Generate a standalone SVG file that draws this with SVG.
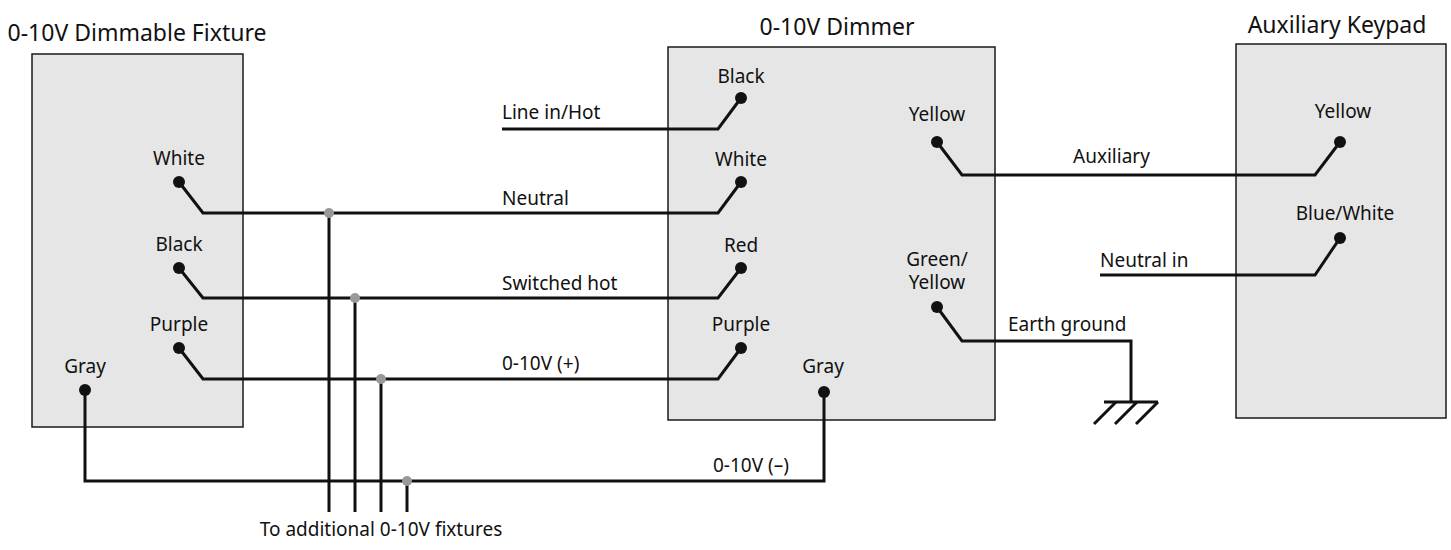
<svg xmlns="http://www.w3.org/2000/svg" width="1451" height="550" viewBox="0 0 1451 550">
<style>
.box{fill:#e6e6e6;stroke:#1a1a1a;stroke-width:1.5}
.w{fill:none;stroke:#111;stroke-width:3;stroke-linejoin:miter}
.t{font-family:"Noto Sans","Open Sans",sans-serif;font-size:19px;fill:#111}
.h{font-family:"Noto Sans","Open Sans",sans-serif;font-size:23px;fill:#111;text-anchor:middle}
.c{text-anchor:middle}
.d{fill:#111}
.j{fill:#999}
</style>
<rect width="1451" height="550" fill="#fff"/>
<g id="fixture">
<rect class="box" x="32" y="54" width="211" height="373"/>
<text class="h" x="137" y="41">0-10V Dimmable Fixture</text>
<text class="t c" x="179" y="165">White</text><circle class="d" cx="179" cy="182" r="6"/>
<text class="t c" x="179" y="251">Black</text><circle class="d" cx="179" cy="268" r="6"/>
<text class="t c" x="179" y="331">Purple</text><circle class="d" cx="179" cy="348" r="6"/>
<text class="t c" x="85" y="373">Gray</text><circle class="d" cx="85" cy="390" r="6"/>
</g>
<g id="dimmer">
<rect class="box" x="668" y="47" width="327" height="373"/>
<text class="h" x="837" y="35">0-10V Dimmer</text>
<text class="t c" x="741" y="83">Black</text><circle class="d" cx="741" cy="98" r="6"/>
<text class="t c" x="741" y="166">White</text><circle class="d" cx="741" cy="182" r="6"/>
<text class="t c" x="741" y="252">Red</text><circle class="d" cx="741" cy="268" r="6"/>
<text class="t c" x="741" y="331">Purple</text><circle class="d" cx="741" cy="348" r="6"/>
<text class="t c" x="823" y="373">Gray</text><circle class="d" cx="824" cy="392" r="6"/>
<text class="t c" x="937" y="121">Yellow</text><circle class="d" cx="937" cy="142" r="6"/>
<text class="t c" x="937" y="266">Green/</text><text class="t c" x="937" y="289">Yellow</text><circle class="d" cx="937" cy="307" r="6"/>
</g>
<g id="keypad">
<rect class="box" x="1236" y="44" width="210" height="374"/>
<text class="h" x="1337" y="33">Auxiliary Keypad</text>
<text class="t c" x="1343" y="118">Yellow</text><circle class="d" cx="1340" cy="142" r="6"/>
<text class="t c" x="1345" y="220">Blue/White</text><circle class="d" cx="1340" cy="238" r="6"/>
</g>
<g id="connectors">
<polyline class="w" points="502,129 718,129 741,98"/>
<polyline class="w" points="179,182 203,213 718,213 741,182"/>
<polyline class="w" points="179,268 203,298 718,298 741,268"/>
<polyline class="w" points="179,348 203,379 718,379 741,348"/>
<polyline class="w" points="85,390 85,481 824,481 824,392"/>
<line class="w" x1="329" y1="213" x2="329" y2="512"/>
<line class="w" x1="355" y1="298" x2="355" y2="512"/>
<line class="w" x1="381" y1="379" x2="381" y2="512"/>
<line class="w" x1="407" y1="481" x2="407" y2="512"/>
<circle class="j" cx="329" cy="213" r="5"/><circle class="j" cx="355" cy="298" r="5"/>
<circle class="j" cx="381" cy="379" r="5"/><circle class="j" cx="407" cy="481" r="5"/>
<polyline class="w" points="937,142 962,175 1315,175 1340,142"/>
<polyline class="w" points="1100,275 1315,275 1340,238"/>
<polyline class="w" points="937,307 962,341 1131,341 1131,402"/>
<line class="w" x1="1104" y1="402" x2="1158" y2="402"/>
<line class="w" x1="1116" y1="402" x2="1094" y2="424"/>
<line class="w" x1="1137" y1="402" x2="1115" y2="424"/>
<line class="w" x1="1158" y1="402" x2="1136" y2="424"/>
<text class="t" x="502" y="119">Line in/Hot</text>
<text class="t" x="502" y="205">Neutral</text>
<text class="t" x="502" y="290">Switched hot</text>
<text class="t" x="502" y="370">0-10V (+)</text>
<text class="t" x="713" y="472">0-10V (–)</text>
<text class="t" x="1073" y="163">Auxiliary</text>
<text class="t" x="1100" y="267">Neutral in</text>
<text class="t" x="1008" y="331">Earth ground</text>
<text class="t c" x="381" y="536">To additional 0-10V fixtures</text>
</g>
</svg>
